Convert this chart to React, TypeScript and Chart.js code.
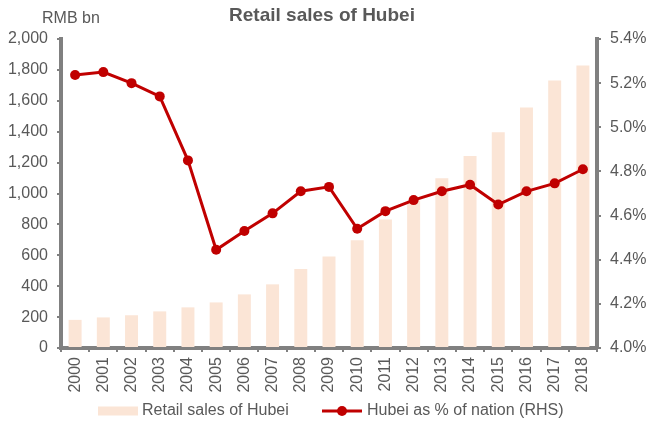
import React, { useEffect, useRef } from 'react';
import { Chart, registerables } from 'chart.js';

Chart.register(...registerables);

const years = ['2000', '2001', '2002', '2003', '2004', '2005', '2006', '2007', '2008', '2009', '2010', '2011', '2012', '2013', '2014', '2015', '2016', '2017', '2018'];
const retailSales = [182, 198, 212, 237, 263, 295, 347, 412, 511, 592, 698, 831, 955, 1098, 1242, 1397, 1556, 1731, 1829];
const hubeiShare = [5.237, 5.25, 5.2, 5.14, 4.85, 4.445, 4.53, 4.61, 4.71, 4.73, 4.54, 4.62, 4.67, 4.71, 4.74, 4.65, 4.71, 4.746, 4.81];

const titleText = 'Retail sales of Hubei';
const unitText = 'RMB bn';
const barLabel = 'Retail sales of Hubei';
const lineLabel = 'Hubei as % of nation (RHS)';

const FONT = '"Liberation Sans", Arial, sans-serif';
const TEXT = '#595959';
const AXIS = '#808080';
const BAR = '#FBE5D6';
const LINE = '#C00000';

export default function App() {
  const ref = useRef<HTMLCanvasElement>(null);

  useEffect(() => {
    document.body.style.margin = '0';
    const canvas = ref.current;
    if (!canvas) return;

    const overlay = {
      id: 'overlay',
      afterDraw(chart: any) {
        const ctx = chart.ctx as CanvasRenderingContext2D;
        ctx.save();
        ctx.fillStyle = TEXT;
        ctx.textBaseline = 'middle';
        ctx.font = `bold 19px ${FONT}`;
        ctx.textAlign = 'center';
        ctx.fillText(titleText, 322, 16);
        ctx.font = `16px ${FONT}`;
        ctx.textAlign = 'left';
        ctx.fillText(unitText, 42, 19);
        // legend
        const ly = 411;
        ctx.fillStyle = BAR;
        ctx.fillRect(98, 406.5, 40, 9);
        ctx.fillStyle = TEXT;
        ctx.fillText(barLabel, 142, ly);
        ctx.strokeStyle = LINE;
        ctx.lineWidth = 3;
        ctx.beginPath();
        ctx.moveTo(322, ly);
        ctx.lineTo(362, ly);
        ctx.stroke();
        ctx.fillStyle = LINE;
        ctx.beginPath();
        ctx.arc(342, ly, 5, 0, Math.PI * 2);
        ctx.fill();
        ctx.fillStyle = TEXT;
        ctx.fillText(lineLabel, 367, ly);
        ctx.restore();
      },
    };

    const chart = new Chart(canvas, {
      type: 'bar',
      data: {
        labels: years,
        datasets: [
          {
            type: 'line',
            label: lineLabel,
            data: hubeiShare,
            yAxisID: 'y1',
            borderColor: LINE,
            backgroundColor: LINE,
            borderWidth: 3,
            pointRadius: 5,
            pointBorderWidth: 0,
            pointBackgroundColor: LINE,
            tension: 0,
            order: 1,
          } as any,
          {
            type: 'bar',
            label: barLabel,
            data: retailSales,
            yAxisID: 'y',
            backgroundColor: BAR,
            borderWidth: 0,
            categoryPercentage: 1,
            barPercentage: 0.46,
            order: 2,
          },
        ],
      },
      options: {
        responsive: false,
        animation: false,
        layout: { padding: { top: 39, left: 0, right: 0, bottom: 0 } },
        plugins: {
          legend: { display: false },
          title: { display: false },
          tooltip: { enabled: false },
        },
        scales: {
          x: {
            position: 'bottom',
            afterFit: (s: any) => { s.height = 76; },
            border: { color: AXIS, width: 4 },
            grid: { offset: true, drawOnChartArea: false, drawTicks: true, tickLength: 4, color: AXIS, lineWidth: 2 },
            ticks: {
              color: TEXT,
              font: { family: FONT, size: 16 },
              minRotation: 90,
              maxRotation: 90,
              autoSkip: false,
              padding: 5,
            },
          },
          y: {
            position: 'left',
            min: 0,
            max: 2000,
            afterFit: (s: any) => { s.width = 61; },
            border: { color: AXIS, width: 4 },
            grid: { drawOnChartArea: false, drawTicks: true, tickLength: 4, color: AXIS, lineWidth: 2 },
            ticks: {
              stepSize: 200,
              color: TEXT,
              font: { family: FONT, size: 16 },
              padding: 9,
              callback: (v: any) => Number(v).toLocaleString('en-US'),
            },
          },
          y1: {
            position: 'right',
            min: 4.0,
            max: 5.4,
            afterFit: (s: any) => { s.width = 49; },
            border: { color: AXIS, width: 4 },
            grid: { drawOnChartArea: false, drawTicks: true, tickLength: 4, color: AXIS, lineWidth: 2 },
            ticks: {
              stepSize: 0.2,
              color: TEXT,
              font: { family: FONT, size: 16 },
              padding: 9,
              callback: (v: any) => Number(v).toFixed(1) + '%',
            },
          },
        },
      },
      plugins: [overlay],
    });

    return () => chart.destroy();
  }, []);

  return (
    <div style={{ width: 646, height: 424 }}>
      <canvas ref={ref} width={646} height={424} style={{ width: 646, height: 424, display: 'block' }} />
    </div>
  );
}
